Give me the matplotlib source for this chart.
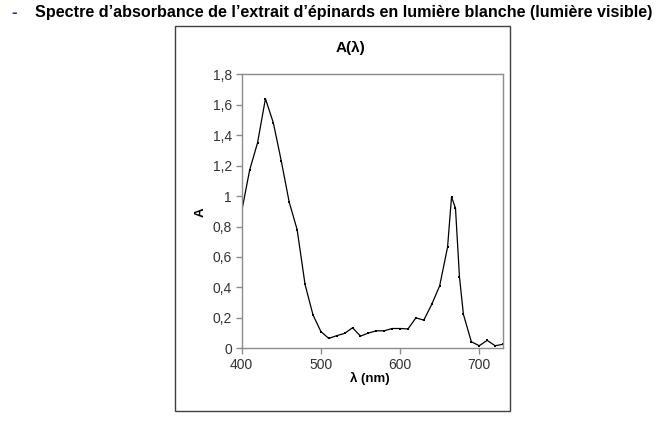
"""
Absorbance spectrum of spinach extract, A(lambda).
"""

import matplotlib
matplotlib.use("Agg")
import matplotlib.pyplot as plt
from matplotlib.patches import Rectangle
from matplotlib.ticker import FuncFormatter

# wavelengths (nm) and absorbance
wavelength = [400, 410, 420, 430, 440, 450, 460, 470, 480, 490,
              500, 510, 520, 530, 540, 550, 560, 570, 580, 590,
              600, 610, 620, 630, 640, 650, 660, 665, 670, 675,
              680, 690, 700, 710, 720, 730]
absorbance = [0.90, 1.17, 1.35, 1.64, 1.48, 1.23, 0.96, 0.78, 0.42, 0.22,
              0.11, 0.065, 0.083, 0.098, 0.135, 0.08, 0.10, 0.115, 0.115, 0.13,
              0.13, 0.127, 0.20, 0.185, 0.289, 0.41, 0.665, 0.995, 0.92, 0.47,
              0.223, 0.043, 0.017, 0.052, 0.017, 0.026]

x_ticks = [400, 500, 600, 700]
y_ticks = [0, 0.2, 0.4, 0.6, 0.8, 1.0, 1.2, 1.4, 1.6, 1.8]

W, H = 660, 421
fig = plt.figure(figsize=(W / 100, H / 100), dpi=100)
plt.rcParams["font.family"] = ["Liberation Sans", "DejaVu Sans"]


def px(x0, y0, x1, y1):
    """pixel box (top-left origin) -> figure fraction [l, b, w, h]"""
    return [x0 / W, 1 - y1 / H, (x1 - x0) / W, (y1 - y0) / H]


# outer frame around the chart
frame = Rectangle((174.5 / W, 1 - 411 / H), (509.5 - 174.5) / W, (411 - 25.7) / H,
                  transform=fig.transFigure, fill=False, edgecolor="#404040", lw=1.0)
fig.patches.append(frame)

ax = fig.add_axes(px(241.7, 74.3, 503, 348.3))
ax.plot(wavelength, absorbance, color="black", lw=0.9,
        marker="s", markersize=1.8, markerfacecolor="black", markeredgewidth=0)

ax.set_xlim(400, 730)
ax.set_ylim(0, 1.8)
ax.set_xticks(x_ticks)
ax.set_yticks(y_ticks)
ax.yaxis.set_major_formatter(FuncFormatter(lambda v, p: f"{v:g}".replace(".", ",")))

for s in ax.spines.values():
    s.set_color("#8c8c8c")
    s.set_linewidth(1.0)
ax.tick_params(direction="out", length=4, width=1.0, color="#8c8c8c",
               labelsize=10, labelcolor="#333333", pad=3)

fig.text(200.7 / W, 1 - 211.7 / H, "A", rotation=90, ha="center", va="center",
         fontsize=9.5, fontweight="bold")
fig.text(370 / W, 1 - 378 / H, "λ (nm)", ha="center", va="center",
         fontsize=9.5, fontweight="bold")
fig.text(350 / W, 1 - 48 / H, "A(λ)", ha="center", va="center",
         fontsize=11, fontweight="bold")

# heading above the chart
fig.text(14 / W, 1 - 13 / H, "-", ha="center", va="center",
         fontsize=12, fontweight="bold", color="#1f3a7a")
fig.text(35 / W, 1 - 13 / H,
         "Spectre d’absorbance de l’extrait d’épinards en lumière blanche (lumière visible)",
         ha="left", va="center", fontsize=11.6, fontweight="bold", color="black")

fig.savefig("out.png", dpi=100)
plt.close(fig)
